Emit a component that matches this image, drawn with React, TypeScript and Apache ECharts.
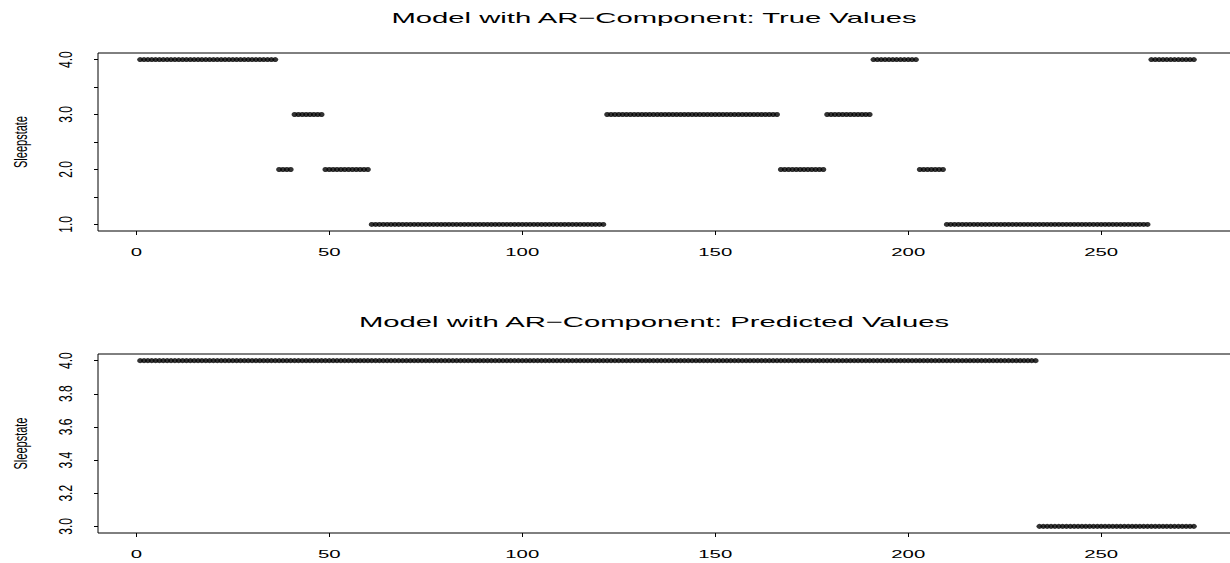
import React, { useEffect, useRef } from "react";
import * as echarts from "echarts";

// ---- data ----
const topTitle = "Model with AR\u2212Component: True Values";
const bottomTitle = "Model with AR\u2212Component: Predicted Values";
const yName = "Sleepstate";

// observation index runs 1..274, stored as run lengths of constant states
const trueStates = [4, 2, 3, 2, 1, 3, 2, 3, 4, 2, 1, 4];
const trueRunLengths = [36, 4, 8, 12, 61, 45, 12, 12, 12, 7, 53, 12];
const predStates = [4, 3];
const predRunLengths = [233, 41];

const xTicks = [0, 50, 100, 150, 200, 250];
const topYTicks = [1, 1.5, 2, 2.5, 3, 3.5, 4];
const topYLabels = [1, 2, 3, 4];
const bottomYTicks = [3, 3.2, 3.4, 3.6, 3.8, 4];

const xRange = [-9.92, 284.92];
const topYRange = [0.88, 4.12];
const bottomYRange = [2.96, 4.04];

function decodeRuns(states: number[], lengths: number[]): number[][] {
  const out: number[][] = [];
  let idx = 1;
  states.forEach((s, k) => {
    for (let j = 0; j < lengths[k]; j++) {
      out.push([idx, s]);
      idx++;
    }
  });
  return out;
}

const FONT = "'Liberation Sans', Arial, Helvetica, sans-serif";

function txt(
  text: string,
  x: number,
  y: number,
  size: number,
  opts: { rotation?: number; scaleX?: number; scaleY?: number } = {}
) {
  return {
    type: "text",
    x,
    y,
    rotation: opts.rotation || 0,
    scaleX: opts.scaleX || 1,
    scaleY: opts.scaleY || 1,
    silent: true,
    style: {
      text,
      font: `${size}px ${FONT}`,
      fill: "#000",
      align: "center",
      verticalAlign: "middle",
      textAlign: "center",
      textVerticalAlign: "middle",
    },
  };
}

export default function App() {
  const ref = useRef<HTMLDivElement>(null);

  useEffect(() => {
    if (!ref.current) return;
    const chart = echarts.init(ref.current, undefined, { renderer: "svg" });

    const trueData = decodeRuns(trueStates, trueRunLengths);
    const predData = decodeRuns(predStates, predRunLengths);

    const xAxisBase = (gridIndex: number) => ({
      type: "value",
      gridIndex,
      min: xRange[0],
      max: xRange[1],
      axisLine: { show: false, onZero: false },
      axisTick: {
        show: true,
        inside: false,
        length: 4,
        customValues: xTicks,
        lineStyle: { color: "#000", width: 1 },
      },
      axisLabel: { show: false, customValues: xTicks },
      splitLine: { show: false },
    });

    const yAxisBase = (gridIndex: number, range: number[], ticks: number[]) => ({
      type: "value",
      gridIndex,
      min: range[0],
      max: range[1],
      axisLine: { show: false, onZero: false },
      axisTick: {
        show: true,
        inside: false,
        length: 4,
        customValues: ticks,
        lineStyle: { color: "#000", width: 1 },
      },
      axisLabel: { show: false, customValues: ticks },
      splitLine: { show: false },
    });

    const gridBase = {
      left: 98,
      width: 1138,
      show: true,
      borderColor: "#000",
      borderWidth: 1,
      backgroundColor: "transparent",
      containLabel: false,
      outerBoundsMode: "none",
    };

    chart.setOption({
      animation: false,
      backgroundColor: "#fff",
      grid: [
        { ...gridBase, top: 53, height: 178 },
        { ...gridBase, top: 354, height: 179 },
      ],
      xAxis: [xAxisBase(0), xAxisBase(1)],
      yAxis: [
        yAxisBase(0, topYRange, topYTicks),
        yAxisBase(1, bottomYRange, bottomYTicks),
      ],
      series: [
        {
          type: "scatter",
          xAxisIndex: 0,
          yAxisIndex: 0,
          data: trueData,
          symbol: "circle",
          symbolSize: [6, 5],
          itemStyle: { color: "#000" },
          silent: true,
        },
        {
          type: "scatter",
          xAxisIndex: 1,
          yAxisIndex: 1,
          data: predData,
          symbol: "circle",
          symbolSize: [6, 5],
          itemStyle: { color: "#000" },
          silent: true,
        },
      ],
    });

    // text labels placed through the axes' own scales
    const graphics: any[] = [];
    const SX = 1.85;
    [0, 1].forEach((g) => {
      const yRange = g === 0 ? topYRange : bottomYRange;
      const bottomPx = chart.convertToPixel({ yAxisIndex: g }, yRange[0]) as number;
      const topPx = chart.convertToPixel({ yAxisIndex: g }, yRange[1]) as number;
      xTicks.forEach((v) => {
        const px = chart.convertToPixel({ xAxisIndex: g }, v) as number;
        graphics.push(txt(String(v), px, bottomPx + 21, 11, { scaleX: SX }));
      });
      const labels = g === 0 ? topYLabels : bottomYTicks;
      labels.forEach((v) => {
        const py = chart.convertToPixel({ yAxisIndex: g }, v) as number;
        graphics.push(
          txt(v.toFixed(1), 65, py, 12, { rotation: Math.PI / 2, scaleY: 1.6 })
        );
      });
      graphics.push(
        txt(yName, 21, (bottomPx + topPx) / 2, 11, { rotation: Math.PI / 2, scaleY: 1.6 })
      );
    });
    graphics.push(txt(topTitle, 654, 18, 15, { scaleX: 1.95 }));
    graphics.push(txt(bottomTitle, 654, 322, 15, { scaleX: 1.95 }));

    chart.setOption({ graphic: graphics });

    return () => {
      chart.dispose();
    };
  }, []);

  return (
    <div
      ref={ref}
      style={{ position: "absolute", left: 0, top: 0, width: 1230, height: 563, background: "#fff" }}
    />
  );
}
